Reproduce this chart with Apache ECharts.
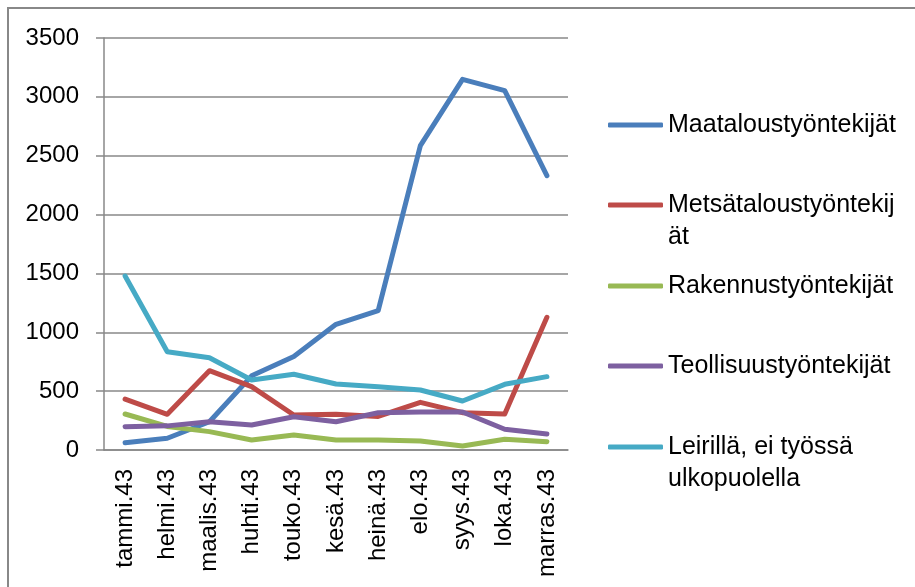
<!DOCTYPE html>
<html>
<head>
<meta charset="utf-8">
<script src="https://cdn.jsdelivr.net/npm/echarts@6/dist/echarts.min.js"></script>
<style>
  html, body { margin: 0; padding: 0; background: #fff; }
  #chart { width: 915px; height: 587px; }
</style>
</head>
<body>
<div id="chart"></div>
<script>
const months = ['tammi.43', 'helmi.43', 'maalis.43', 'huhti.43', 'touko.43', 'kesä.43', 'heinä.43', 'elo.43', 'syys.43', 'loka.43', 'marras.43']
const seriesNames = ['Maataloustyöntekijät', 'Metsätaloustyöntekijät', 'Rakennustyöntekijät', 'Teollisuustyöntekijät', 'Leirillä, ei työssä ulkopuolella']
// legend text as it wraps in the original (leading blank line keeps the icon on the first line)
const legendLabels = ['Maataloustyöntekijät', '\nMetsätaloustyöntekij\nät', 'Rakennustyöntekijät', 'Teollisuustyöntekijät', '\nLeirillä, ei työssä\nulkopuolella']
const maatalous = [62, 100, 240, 630, 795, 1068, 1184, 2585, 3149, 3053, 2330]
const metsatalous = [433, 303, 674, 538, 297, 303, 285, 405, 317, 306, 1127]
const rakennus = [306, 200, 156, 85, 127, 85, 85, 76, 34, 91, 71]
const teollisuus = [198, 205, 240, 212, 283, 240, 317, 323, 323, 176, 136]
const leirilla = [1478, 835, 784, 595, 643, 561, 538, 510, 416, 558, 623]
const yTicks = [0, 500, 1000, 1500, 2000, 2500, 3000, 3500]

const colors = ['#4A7EBB', '#BE4B48', '#98B954', '#7D60A0', '#46AAC5']
const values = [maatalous, metsatalous, rakennus, teollisuus, leirilla]
const font = 'Liberation Sans'
const legendTops = [109, 157, 270, 350, 399]

let chart = echarts.init(document.getElementById('chart'))

let legends = seriesNames.map((name, i) => ({
  orient: 'vertical',
  left: 608,
  top: legendTops[i],
  padding: 0,
  data: [name],
  itemWidth: 55,
  itemHeight: 5,
  icon: 'roundRect',
  selectedMode: false,
  formatter: () => legendLabels[i],
  textStyle: {
    fontFamily: font,
    fontSize: 25,
    color: '#000',
    lineHeight: 32
  }
}))

chart.setOption({
  animation: false,
  color: colors,
  graphic: [{
    type: 'rect',
    shape: { x: 8, y: 8, width: 1000, height: 700 },
    style: { fill: 'none', stroke: '#888', lineWidth: 2 },
    silent: true
  }],
  grid: { left: 104, top: 38, right: 347, bottom: 137 },
  legend: legends,
  xAxis: {
    type: 'category',
    data: months,
    axisLine: { lineStyle: { color: '#888', width: 1.5 } },
    axisTick: { length: 8, lineStyle: { color: '#888', width: 1.5 } },
    axisLabel: {
      rotate: 90,
      margin: 19,
      interval: 0,
      fontFamily: font,
      fontSize: 24,
      color: '#000'
    }
  },
  yAxis: {
    type: 'value',
    min: yTicks[0],
    max: yTicks[yTicks.length - 1],
    interval: yTicks[1] - yTicks[0],
    axisLine: { show: true, lineStyle: { color: '#888', width: 1.5 } },
    axisTick: { show: true, length: 8, lineStyle: { color: '#888', width: 1.5 } },
    splitLine: { lineStyle: { color: '#888', width: 1.5 } },
    axisLabel: {
      margin: 25,
      formatter: v => String(v),
      fontFamily: font,
      fontSize: 24,
      color: '#000'
    }
  },
  series: seriesNames.map((name, i) => ({
    name: name,
    type: 'line',
    data: values[i],
    symbol: 'none',
    lineStyle: { width: 5, cap: 'round', join: 'round' }
  }))
})
</script>
</body>
</html>
